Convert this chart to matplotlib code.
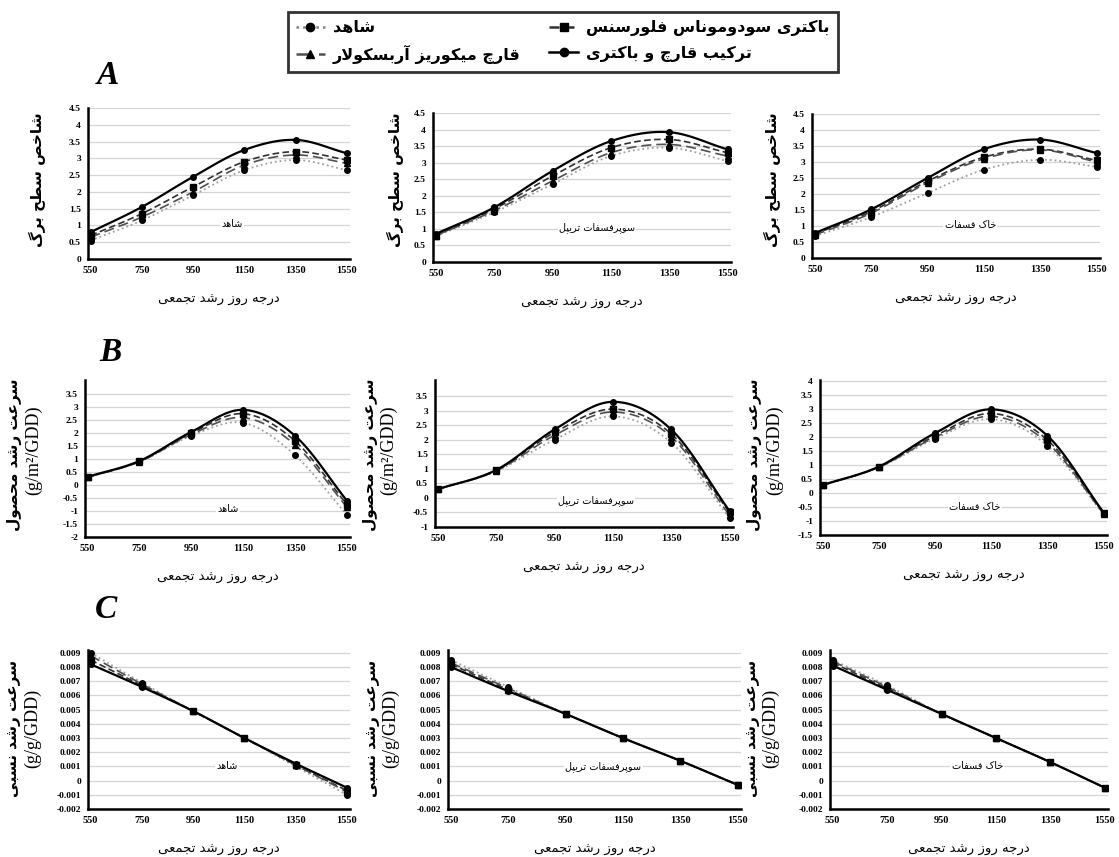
import numpy as np
import matplotlib
matplotlib.use("Agg")
import matplotlib.pyplot as plt
from matplotlib.lines import Line2D

# ---- data ----
gdd = [550, 750, 950, 1150, 1350, 1550]
treatments = ["شاهد", "باکتری سودوموناس فلورسنس", "قارچ میکوریز آربسکولار", "ترکیب قارچ و باکتری"]
soils = ["شاهد", "سوپرفسفات تریپل", "خاک فسفات"]

# leaf area index (row A), order: control, bacteria, fungi, combined
lai_control = [[0.55, 1.15, 1.90, 2.65, 2.95, 2.65],
               [0.78, 1.50, 2.35, 3.20, 3.45, 3.05],
               [0.68, 1.28, 2.03, 2.76, 3.07, 2.85]]
lai_bact = [[0.70, 1.35, 2.15, 2.90, 3.20, 2.95],
            [0.80, 1.60, 2.60, 3.45, 3.70, 3.30],
            [0.75, 1.45, 2.40, 3.15, 3.40, 3.05]]
lai_fungi = [[0.65, 1.25, 2.00, 2.80, 3.10, 2.85],
             [0.80, 1.55, 2.45, 3.30, 3.55, 3.20],
             [0.72, 1.40, 2.35, 3.10, 3.38, 3.00]]
lai_comb = [[0.80, 1.55, 2.45, 3.25, 3.55, 3.15],
            [0.85, 1.65, 2.75, 3.65, 3.92, 3.40],
            [0.78, 1.52, 2.50, 3.40, 3.70, 3.28]]

# crop growth rate (row B)
cgr_control = [[0.30, 0.90, 1.90, 2.40, 1.15, -1.15],
               [0.30, 0.92, 2.00, 2.80, 1.90, -0.70],
               [0.28, 0.92, 1.95, 2.65, 1.70, -0.75]]
cgr_bact = [[0.30, 0.92, 2.00, 2.75, 1.70, -0.75],
            [0.30, 0.95, 2.25, 3.05, 2.20, -0.50],
            [0.29, 0.94, 2.05, 2.85, 1.90, -0.72]]
cgr_fungi = [[0.30, 0.90, 1.95, 2.60, 1.55, -0.85],
             [0.30, 0.93, 2.15, 2.95, 2.10, -0.60],
             [0.29, 0.93, 2.00, 2.75, 1.80, -0.74]]
cgr_comb = [[0.32, 0.93, 2.05, 2.90, 1.90, -0.60],
            [0.30, 0.96, 2.35, 3.30, 2.35, -0.45],
            [0.29, 0.95, 2.15, 3.00, 2.05, -0.70]]

# relative growth rate (row C)
rgr_control = [[0.0090, 0.0069, 0.0049, 0.0030, 0.0010, -0.0010],
               [0.0085, 0.0066, 0.0047, 0.0030, 0.0014, -0.0003],
               [0.0085, 0.0067, 0.0047, 0.0030, 0.0013, -0.0005]]
rgr_bact = [[0.0085, 0.0067, 0.0049, 0.0030, 0.0011, -0.0007],
            [0.0082, 0.0064, 0.0047, 0.0030, 0.0014, -0.0003],
            [0.0083, 0.0065, 0.0047, 0.0030, 0.0013, -0.0005]]
rgr_fungi = [[0.0088, 0.0068, 0.0049, 0.0030, 0.0011, -0.0008],
             [0.0083, 0.0065, 0.0047, 0.0030, 0.0014, -0.0003],
             [0.0084, 0.0066, 0.0047, 0.0030, 0.0013, -0.0005]]
rgr_comb = [[0.0082, 0.0066, 0.0049, 0.0030, 0.0012, -0.0005],
            [0.0080, 0.0063, 0.0047, 0.0030, 0.0014, -0.0003],
            [0.0081, 0.0064, 0.0047, 0.0030, 0.0013, -0.0005]]

ticks_a = [0, 0.5, 1, 1.5, 2, 2.5, 3, 3.5, 4, 4.5]
ticks_b = [[-2, -1.5, -1, -0.5, 0, 0.5, 1, 1.5, 2, 2.5, 3, 3.5],
           [-1, -0.5, 0, 0.5, 1, 1.5, 2, 2.5, 3, 3.5],
           [-1.5, -1, -0.5, 0, 0.5, 1, 1.5, 2, 2.5, 3, 3.5, 4]]
ticks_c = [0.009, 0.008, 0.007, 0.006, 0.005, 0.004, 0.003, 0.002, 0.001, 0, -0.001, -0.002]


# ---- simple Persian shaping (matplotlib has no bidi / joining) ----
DUAL = {'ب': 0xFE8F, 'ت': 0xFE95, 'ث': 0xFE99, 'ج': 0xFE9D, 'ح': 0xFEA1, 'خ': 0xFEA5,
        'س': 0xFEB1, 'ش': 0xFEB5, 'ص': 0xFEB9, 'ض': 0xFEBD, 'ط': 0xFEC1, 'ظ': 0xFEC5,
        'ع': 0xFEC9, 'غ': 0xFECD, 'ف': 0xFED1, 'ق': 0xFED5, 'ل': 0xFEDD, 'م': 0xFEE1,
        'ن': 0xFEE5, 'ه': 0xFEE9, 'پ': 0xFB56, 'چ': 0xFB7A, 'ک': 0xFB8E, 'گ': 0xFB92,
        'ی': 0xFBFC}
RIGHT = {'ا': 0xFE8D, 'آ': 0xFE81, 'د': 0xFEA9, 'ذ': 0xFEAB, 'ر': 0xFEAD, 'ز': 0xFEAF,
         'و': 0xFEED, 'ژ': 0xFB8A}


def fa(text):
    out = []
    n = len(text)
    i = 0
    while i < n:
        c = text[i]
        prev_j = i > 0 and text[i - 1] in DUAL
        if c == 'ل' and i + 1 < n and text[i + 1] in 'اآ':
            base = 0xFEFB if text[i + 1] == 'ا' else 0xFEF5
            out.append(chr(base + (1 if prev_j else 0)))
            i += 2
            continue
        nxt = text[i + 1] if i + 1 < n else ''
        next_j = nxt in DUAL or nxt in RIGHT
        if c in DUAL:
            if prev_j and next_j:
                out.append(chr(DUAL[c] + 3))
            elif prev_j:
                out.append(chr(DUAL[c] + 1))
            elif next_j:
                out.append(chr(DUAL[c] + 2))
            else:
                out.append(chr(DUAL[c]))
        elif c in RIGHT:
            out.append(chr(RIGHT[c] + (1 if prev_j else 0)))
        else:
            out.append(c)
        i += 1
    return ''.join(reversed(out))


def smooth(x, y, k=20):
    # Catmull-Rom curve through the points, only for drawing the line
    x = np.asarray(x, float)
    y = np.asarray(y, float)
    px = np.concatenate([[2 * x[0] - x[1]], x, [2 * x[-1] - x[-2]]])
    py = np.concatenate([[2 * y[0] - y[1]], y, [2 * y[-1] - y[-2]]])
    xs, ys = [], []
    t = np.linspace(0, 1, k, endpoint=False)
    for j in range(1, len(px) - 2):
        for p, store in ((px, xs), (py, ys)):
            p0, p1, p2, p3 = p[j - 1], p[j], p[j + 1], p[j + 2]
            store.append(0.5 * (2 * p1 + (-p0 + p2) * t + (2 * p0 - 5 * p1 + 4 * p2 - p3) * t ** 2
                                + (-p0 + 3 * p1 - 3 * p2 + p3) * t ** 3))
    xs.append([x[-1]])
    ys.append([y[-1]])
    return np.concatenate(xs), np.concatenate(ys)


FA = "DejaVu Sans"
SERIF = "Liberation Serif"

styles = [dict(color='#a0a0a0', ls=':', lw=1.3, marker='o'),
          dict(color='#303030', ls=(0, (4, 2)), lw=1.2, marker='s'),
          dict(color='#505050', ls=(0, (6, 3)), lw=1.2, marker='^'),
          dict(color='black', ls='-', lw=1.6, marker='o')]

W, H = 1119, 857
fig = plt.figure(figsize=(W / 100, H / 100), dpi=100)


def add_ax(x0, x1, ytop, ybot):
    return fig.add_axes([x0 / W, 1 - ybot / H, (x1 - x0) / W, (ybot - ytop) / H])


def fmt(v):
    if abs(v) < 1e-12:
        return "0"
    return ("%.3f" % v).rstrip('0').rstrip('.') if abs(v) < 0.05 else ("%g" % v)


def draw(ax, series, ylim, yticks):
    for data, st in zip(series, styles):
        sx, sy = smooth(gdd, data)
        ax.plot(sx, sy, color=st['color'], ls=st['ls'], lw=st['lw'], zorder=3)
        ax.plot(gdd, data, ls='none', marker=st['marker'], color='black', ms=4, zorder=4)
    ax.set_xlim(540, 1562)
    ax.set_ylim(*ylim)
    ax.set_xticks(gdd)
    ax.set_xticklabels([str(g) for g in gdd], fontfamily=SERIF, fontweight='bold', fontsize=7.5)
    ax.set_yticks(yticks)
    ax.set_yticklabels([fmt(v) for v in yticks], fontfamily=SERIF, fontweight='bold', fontsize=6.8)
    ax.tick_params(length=0, pad=5)
    ax.yaxis.grid(True, color='#d4d4d4', lw=0.9)
    ax.set_axisbelow(True)
    for s in ('top', 'right'):
        ax.spines[s].set_visible(False)
    for s in ('left', 'bottom'):
        ax.spines[s].set_linewidth(1.8)
    ax.set_xlabel(fa("درجه روز رشد تجمعی"), fontfamily=FA, fontsize=9.5, labelpad=13)


boxes_a = [(88, 350, 108, 259), (433, 731, 113, 262), (812, 1100, 114, 258)]
boxes_b = [(85, 350, 380, 537), (435, 733, 380, 527), (820, 1107, 380, 535)]
boxes_c = [(88, 350, 650, 809), (448, 741, 650, 809), (830, 1108, 650, 809)]
ylims_b = [(-2, 4.05), (-1, 4.05), (-1.5, 4.05)]

for i in range(3):
    ax = add_ax(*boxes_a[i])
    draw(ax, [lai_control[i], lai_bact[i], lai_fungi[i], lai_comb[i]], (0, 4.5), ticks_a)
    ax.text(0.55, 0.23, fa(soils[i]), transform=ax.transAxes, ha='center', va='center',
            fontfamily=FA, fontsize=7, bbox=dict(fc='white', ec='none', pad=1), zorder=2)

    ax = add_ax(*boxes_b[i])
    draw(ax, [cgr_control[i], cgr_bact[i], cgr_fungi[i], cgr_comb[i]], ylims_b[i], ticks_b[i])
    ax.text(0.54, 0.18, fa(soils[i]), transform=ax.transAxes, ha='center', va='center',
            fontfamily=FA, fontsize=7, bbox=dict(fc='white', ec='none', pad=1), zorder=2)

    ax = add_ax(*boxes_c[i])
    draw(ax, [rgr_control[i], rgr_bact[i], rgr_fungi[i], rgr_comb[i]], (-0.002, 0.0092), ticks_c)
    ax.text(0.53, 0.27, fa(soils[i]), transform=ax.transAxes, ha='center', va='center',
            fontfamily=FA, fontsize=7, bbox=dict(fc='white', ec='none', pad=1), zorder=2)

# y axis titles
for x in (37, 395, 772):
    fig.text(x / W, 1 - 180 / H, fa("شاخص سطح برگ"), rotation=90, ha='center', va='center',
             fontfamily=FA, fontweight='bold', fontsize=11)
for xp, xu in ((15, 34), (370, 389), (755, 775)):
    fig.text(xp / W, 1 - 455 / H, fa("سرعت رشد محصول"), rotation=90, ha='center', va='center',
             fontfamily=FA, fontweight='bold', fontsize=11)
    fig.text(xu / W, 1 - 450 / H, "(g/m²/GDD)", rotation=90, ha='center', va='center',
             fontfamily=SERIF, fontsize=13)
for xp, xu in ((14, 33), (373, 391), (753, 771)):
    fig.text(xp / W, 1 - 728 / H, fa("سرعت رشد نسبی"), rotation=90, ha='center', va='center',
             fontfamily=FA, fontweight='bold', fontsize=11)
    fig.text(xu / W, 1 - 728 / H, "(g/g/GDD)", rotation=90, ha='center', va='center',
             fontfamily=SERIF, fontsize=13)

# panel letters
for letter, (x, y) in zip("ABC", ((108, 76), (110, 352), (106, 610))):
    fig.text(x / W, 1 - y / H, letter, ha='center', va='center', fontfamily=SERIF,
             fontweight='bold', fontstyle='italic', fontsize=24)

# legend
handles = [Line2D([], [], color=st['color'] if k else '#808080', ls=st['ls'], lw=1.8,
                  marker=st['marker'], ms=6, mfc='black', mec='black')
           for k, st in enumerate(styles)]
order = [0, 2, 1, 3]
leg = fig.legend([handles[k] for k in order], [fa(treatments[k]) for k in order],
                 loc='center', bbox_to_anchor=(0.503, 0.951), ncol=2, frameon=True,
                 fancybox=False, edgecolor='black', handlelength=1.8, handletextpad=0.5,
                 columnspacing=1.8, prop=dict(family=FA, weight='bold', size=11.5),
                 borderpad=0.5, labelspacing=0.6)
leg.get_frame().set_linewidth(2)

fig.savefig("out.png", dpi=100)
